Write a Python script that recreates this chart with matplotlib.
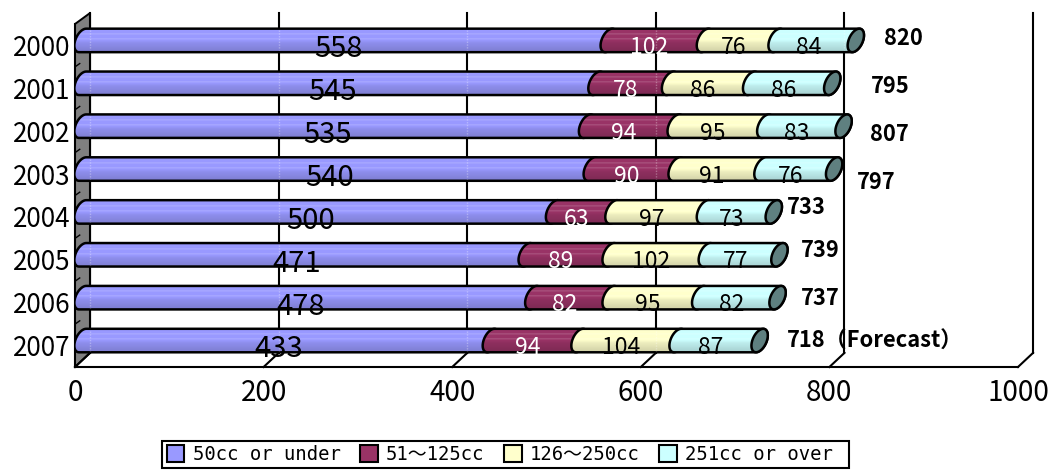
"""Stacked 3D-style cylinder bars: yearly totals by engine displacement class."""

import matplotlib
matplotlib.use("Agg")
import matplotlib.pyplot as plt
import numpy as np
from matplotlib.patches import Patch, PathPatch, Polygon
from matplotlib.path import Path

YEARS = ["2000", "2001", "2002", "2003", "2004", "2005", "2006", "2007"]
UNDER_50 = [558, 545, 535, 540, 500, 471, 478, 433]
CC_51_125 = [102, 78, 94, 90, 63, 89, 82, 94]
CC_126_250 = [76, 86, 95, 91, 97, 102, 95, 104]
OVER_251 = [84, 86, 83, 76, 73, 77, 82, 87]
TOTALS = ["820", "795", "807", "797", "733", "739", "737", "718（Forecast）"]
SERIES_NAMES = ["50cc or under", "51～125cc", "126～250cc", "251cc or over "]
XTICKS = [0, 200, 400, 600, 800, 1000]

COLORS = ["#9999ff", "#993366", "#ffffcc", "#ccffff"]
LABEL_COLORS = ["black", "white", "black", "black"]
CAP_COLOR = "#5f8080"
WALL_COLOR = "#808080"

# total labels were placed by hand: (x in data units, y shift in categories)
TOTAL_POS = [(858, -0.17), (844, -0.05), (843, 0.07), (829, 0.19),
             (755, -0.23), (770, -0.22), (770, -0.10), (755, -0.10)]

DEPTH_X = 16.0     # wall depth in data units
DEPTH_TOP = -0.257
DEPTH_BOTTOM = -0.33
BAR_SHIFT = -0.117
BAR_HALF = 0.274
CAP_A = 7.8
CAP_SKEW = -3.8

FONT = ["Noto Sans CJK JP", "DejaVu Sans"]
LEGEND_FONT = ["DejaVu Sans Mono", "Noto Sans CJK JP"]
plt.rcParams["font.family"] = FONT


def ellipse_pts(cx, cy, t0, t1, n=24):
    t = np.radians(np.linspace(t0, t1, n))
    xs = cx + CAP_A * np.cos(t) + CAP_SKEW * np.sin(t)
    ys = cy + BAR_HALF * np.sin(t)
    return np.column_stack([xs, ys])


def cylinder_path(x0, x1, cy):
    # left half of the start ring, then right half of the end ring
    left = ellipse_pts(x0, cy, 270, 90)
    right = ellipse_pts(x1, cy, 90, -90)
    pts = np.vstack([left, right, left[:1]])
    codes = [Path.MOVETO] + [Path.LINETO] * (len(pts) - 2) + [Path.CLOSEPOLY]
    return Path(pts, codes)


def shaded(color, n=24):
    # banded shading: plain base, pale streaks up top, darker towards the bottom
    rgb = np.array(matplotlib.colors.to_rgb(color))
    shade = np.interp(np.linspace(0, 1, n), [0.0, 0.5, 0.62, 1.0], [1.0, 1.0, 0.93, 0.82])
    out = rgb[None, :] * shade[:, None]
    for row, amount in [(5, 0.12), (6, 0.08), (10, 0.12), (11, 0.06)]:
        out[row] = out[row] + (1 - out[row]) * amount
    return np.clip(out[:, None, :], 0, 1)


fig = plt.figure(figsize=(10.53, 4.74), dpi=100)
ax = fig.add_axes([75 / 1053, 1 - 367 / 474, 943 / 1053, 343 / 474])
ax.set_xlim(0, 1000)
ax.set_ylim(7.5, -0.5)

y = np.arange(len(YEARS))
top_back = -0.5 + DEPTH_TOP
bottom_back = 7.5 + DEPTH_BOTTOM

# side wall
ax.add_patch(Polygon([(0, -0.5), (DEPTH_X, top_back), (DEPTH_X, bottom_back), (0, 7.5)],
                     facecolor=WALL_COLOR, edgecolor="black", linewidth=1.4,
                     clip_on=False, zorder=1))
for b in np.arange(0.5, 7.5):
    ax.plot([0, 5], [b, b + DEPTH_TOP * 0.3], color="black", lw=1.0, zorder=1.5)

# back gridlines with their floor diagonals
for t in XTICKS:
    ax.plot([t + DEPTH_X, t + DEPTH_X], [top_back, bottom_back], color="black",
            lw=1.5, clip_on=False, zorder=1)
    ax.plot([t, t + DEPTH_X], [7.5, bottom_back], color="black", lw=1.5,
            clip_on=False, zorder=1)

# cylinders
stack = np.array([UNDER_50, CC_51_125, CC_126_250, OVER_251], dtype=float)
starts = np.vstack([np.zeros(len(YEARS)), np.cumsum(stack, axis=0)[:-1]])
z = 3.0
for i, yi in enumerate(y):
    cy = yi + BAR_SHIFT
    for s in range(len(COLORS)):
        x0 = starts[s, i] + DEPTH_X / 2
        x1 = x0 + stack[s, i]
        path = cylinder_path(x0, x1, cy)
        img = ax.imshow(shaded(COLORS[s]), aspect="auto", interpolation="nearest",
                        extent=(x0 - 12, x1 + 12, cy + BAR_HALF, cy - BAR_HALF), zorder=z)
        outline = PathPatch(path, facecolor="none", edgecolor="black", linewidth=1.8,
                            zorder=z + 0.01)
        ax.add_patch(outline)
        img.set_clip_path(outline)
        z += 0.02
    end = starts[-1, i] + stack[-1, i] + DEPTH_X / 2
    # faint traces of the gridlines behind the tube
    for t in XTICKS:
        if t + DEPTH_X < end:
            ax.plot([t + DEPTH_X, t + DEPTH_X], [cy - BAR_HALF * 0.85, cy + BAR_HALF * 0.85],
                    color="white", lw=1.0, ls=(0, (1, 1)), alpha=0.3, zorder=z)
    cap = ellipse_pts(end, cy, 0, 360, 48)
    ax.add_patch(Polygon(cap, closed=True, facecolor=CAP_COLOR, edgecolor="black",
                         linewidth=1.8, zorder=z))
    z += 0.02

ax.set_xlim(0, 1000)
ax.set_ylim(7.5, -0.5)

# value labels sit on the front plane
for s in range(len(COLORS)):
    size = 21 if s == 0 else 16.5
    shift = 0.09 if s == 0 else 0.05
    for i, yi in enumerate(y):
        ax.text(starts[s, i] + stack[s, i] / 2, yi + shift, f"{int(stack[s, i])}",
                ha="center", va="center", fontsize=size, color=LABEL_COLORS[s], zorder=20)

for i, (tx, dy) in enumerate(TOTAL_POS):
    ax.text(tx, y[i] + dy, TOTALS[i], ha="left", va="center", fontsize=15.8,
            fontweight="bold", color="black", zorder=21, clip_on=False)

ax.set_xticks(XTICKS)
ax.set_yticks(y)
ax.set_yticklabels(YEARS)
ax.tick_params(axis="x", length=0, labelsize=20, colors="black", pad=8)
ax.tick_params(axis="y", length=0, labelsize=18.7, colors="black", pad=3)
for side in ["top", "right"]:
    ax.spines[side].set_visible(False)
ax.spines["left"].set_linewidth(1.5)
ax.spines["bottom"].set_linewidth(1.5)
ax.spines["left"].set_zorder(2)
ax.patch.set_visible(False)

handles = [Patch(facecolor=c, edgecolor="black", linewidth=1.5) for c in COLORS]
fig.legend(handles, SERIES_NAMES, ncol=4, loc="center",
           bbox_to_anchor=(505.5 / 1053, 1 - 454.5 / 474), fancybox=False, framealpha=1,
           edgecolor="black", handlelength=0.95, handleheight=0.95, handletextpad=0.45,
           columnspacing=1.0, borderpad=0.22, borderaxespad=0,
           prop={"family": LEGEND_FONT, "size": 13.6}).get_frame().set_linewidth(1.5)

fig.savefig("out.png", dpi=100)
